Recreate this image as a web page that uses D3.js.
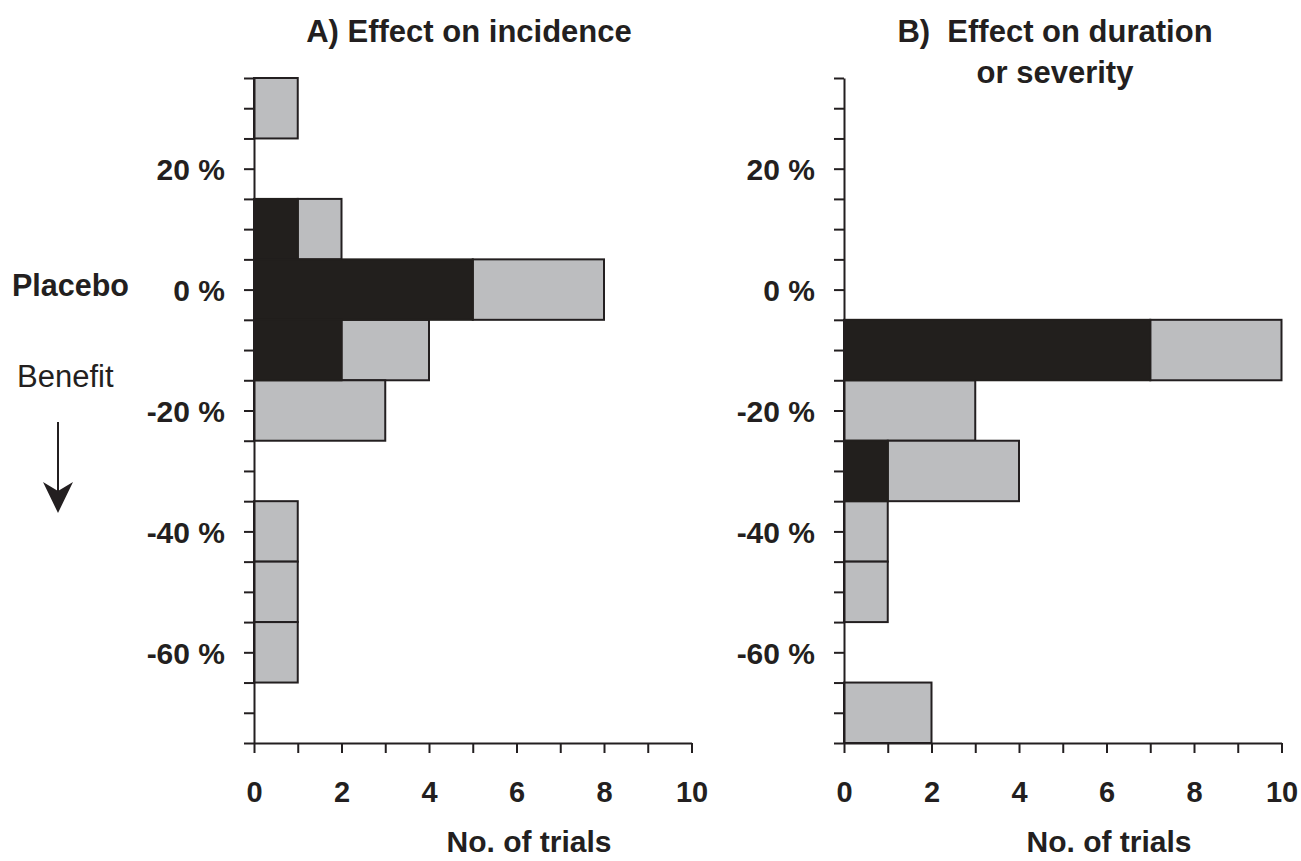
<!DOCTYPE html>
<html>
<head>
<meta charset="utf-8">
<script src="https://cdn.jsdelivr.net/npm/d3@7"></script>
<style>
  html, body { margin: 0; padding: 0; background: #fff; }
  svg { display: block; }
  text { font-family: "Liberation Sans", Arial, Helvetica, sans-serif; fill: #231f20; }
</style>
</head>
<body>
<svg id="chart" width="1301" height="861"></svg>
<script>
// ---- data ----
// bins are 10 % wide, given by their centre (percent change vs placebo)
const binsA = [30, 10, 0, -10, -20, -40, -50, -60];
const blackA = [0, 1, 5, 2, 0, 0, 0, 0];   // dark segment
const totalA = [1, 2, 8, 4, 3, 1, 1, 1];   // total trials in bin

const binsB = [-10, -20, -30, -40, -50, -70];
const blackB = [7, 0, 1, 0, 0, 0];
const totalB = [10, 3, 4, 1, 1, 2];

const yTickValues = d3.range(35, -80, -5);
const yLabelValues = [20, 0, -20, -40, -60];
const xTickValues = d3.range(0, 11, 1);
const xLabelValues = [0, 2, 4, 6, 8, 10];

const titleA = ["A) Effect on incidence"];
const titleB = ["B)\u00a0 Effect on duration", "or severity"];
const xTitle = "No. of trials";

// ---- drawing ----
const svg = d3.select("#chart");
const ink = "#231f20";
const grey = "#bcbdbf";
const dark = "#221f1d";

const y = d3.scaleLinear().domain([-75, 35]).range([743, 78]);

function panel(x0, bins, black, total, title, titleCx, xTitleCx) {
  const x = d3.scaleLinear().domain([0, 10]).range([x0, x0 + 437.5]);
  const g = svg.append("g");

  // grey (total) bars
  g.selectAll("rect.tot").data(bins).enter().append("rect")
    .attr("class", "tot")
    .attr("x", (d, i) => x(black[i]))
    .attr("width", (d, i) => x(total[i]) - x(black[i]))
    .attr("y", d => y(d + 5))
    .attr("height", d => y(d - 5) - y(d + 5))
    .attr("fill", grey)
    .attr("stroke", ink)
    .attr("stroke-width", 2);

  // dark bars
  g.selectAll("rect.blk").data(bins.filter((d, i) => black[i] > 0)).enter().append("rect")
    .attr("class", "blk")
    .attr("x", x(0))
    .attr("width", d => x(black[bins.indexOf(d)]) - x(0))
    .attr("y", d => y(d + 5))
    .attr("height", d => y(d - 5) - y(d + 5))
    .attr("fill", dark)
    .attr("stroke", dark)
    .attr("stroke-width", 2);

  // y axis
  const yAxis = d3.axisLeft(y)
    .tickValues(yTickValues)
    .tickSize(10)
    .tickSizeOuter(0)
    .tickPadding(19)
    .tickFormat(d => yLabelValues.includes(d) ? d + " %" : "");
  const ya = g.append("g").attr("transform", `translate(${x0},0)`).call(yAxis);
  ya.selectAll("path, line").attr("stroke", ink).attr("stroke-width", 2);
  ya.selectAll("text")
    .attr("font-size", 30).attr("font-weight", "bold")
    .attr("font-family", '"Liberation Sans", Arial, sans-serif')
    .attr("fill", ink).attr("dy", "0.36em");

  // x axis
  const xAxis = d3.axisBottom(x)
    .tickValues(xTickValues)
    .tickSize(10)
    .tickSizeOuter(0)
    .tickPadding(28)
    .tickFormat(d => xLabelValues.includes(d) ? d : "");
  const xa = g.append("g").attr("transform", `translate(0,${y(-75)})`).call(xAxis);
  xa.selectAll("path, line").attr("stroke", ink).attr("stroke-width", 2);
  xa.selectAll("text")
    .attr("font-size", 29).attr("font-weight", "bold")
    .attr("font-family", '"Liberation Sans", Arial, sans-serif')
    .attr("fill", ink);

  // titles
  title.forEach((t, i) => {
    g.append("text")
      .attr("x", titleCx).attr("y", 42 + i * 41)
      .attr("text-anchor", "middle")
      .attr("font-size", 31).attr("font-weight", "bold")
      .text(t);
  });

  g.append("text")
    .attr("x", xTitleCx).attr("y", 852)
    .attr("text-anchor", "middle")
    .attr("font-size", 30).attr("font-weight", "bold")
    .text(xTitle);
}

panel(254, binsA, blackA, totalA, titleA, 469, 529);
panel(844, binsB, blackB, totalB, titleB, 1055, 1109);

// side annotations
svg.append("text").attr("x", 12).attr("y", 296)
  .attr("font-size", 30.5).attr("font-weight", "bold").text("Placebo");
svg.append("text").attr("x", 17).attr("y", 387)
  .attr("font-size", 31).text("Benefit");
svg.append("line").attr("x1", 58).attr("x2", 58).attr("y1", 422).attr("y2", 495)
  .attr("stroke", ink).attr("stroke-width", 2);
svg.append("path")
  .attr("d", d3.line()([[58, 513], [43, 482], [58, 491], [73, 482]]) + "Z")
  .attr("fill", ink);
</script>
</body>
</html>
